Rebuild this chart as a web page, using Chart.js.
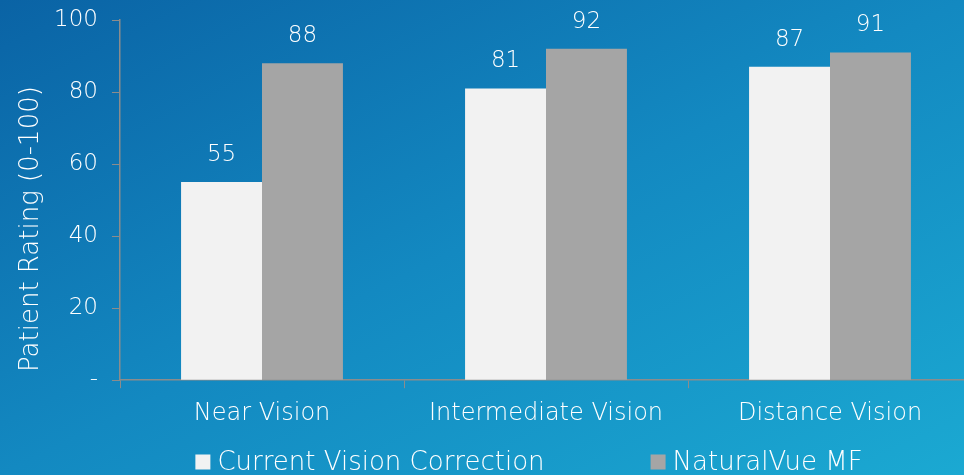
<!DOCTYPE html>
<html>
<head>
<meta charset="utf-8">
<script src="https://cdn.jsdelivr.net/npm/chart.js@4.4.1/dist/chart.umd.min.js"></script>
<style>
html,body{margin:0;padding:0;width:964px;height:475px;overflow:hidden;}
body{background:linear-gradient(to bottom right,#0a63a5 0%,#1389c1 50%,#1ba9d2 100%);}
#wrap{position:absolute;left:0;top:0;width:980px;height:475px;}
</style>
</head>
<body>
<div id="wrap"><canvas id="c" width="980" height="475"></canvas></div>
<script>
const categories=["Near Vision","Intermediate Vision","Distance Vision"];
const seriesNames=["Current Vision Correction","NaturalVue MF"];
const currentValues=[55,81,87];
const naturalVueValues=[88,92,91];
const yTicks=[0,20,40,60,80,100];
const yTitle="Patient Rating (0-100)";
const fontFam="'DejaVu Sans', sans-serif";
const fw=200;

const valueLabels={
  id:"valueLabels",
  afterDatasetsDraw(chart){
    const ctx=chart.ctx;ctx.save();
    ctx.fillStyle="#ffffff";ctx.font=fw+" 23px "+fontFam;ctx.textAlign="center";ctx.textBaseline="middle";
    chart.data.datasets.forEach((ds,i)=>{
      chart.getDatasetMeta(i).data.forEach((bar,j)=>{ctx.fillText(ds.data[j],bar.x,bar.y-27);});
    });
    ctx.restore();
  }
};
const bottomLegend={
  id:"bottomLegend",
  afterDraw(chart){
    const ctx=chart.ctx;ctx.save();
    ctx.font=fw+" 26px "+fontFam;ctx.textBaseline="middle";
    const box=15,gapBox=7,gapItem=106,y=462;
    const widths=chart.data.datasets.map(d=>box+gapBox+ctx.measureText(d.label).width);
    let x=529-(widths.reduce((a,b)=>a+b,0)+gapItem)/2;
    chart.data.datasets.forEach((d,i)=>{
      ctx.fillStyle=d.backgroundColor;ctx.fillRect(x,y-box/2,box,box);
      ctx.fillStyle="#ffffff";ctx.fillText(d.label,x+box+gapBox,y+1);
      x+=widths[i]+gapItem;
    });
    ctx.restore();
  }
};

new Chart(document.getElementById("c"),{
  type:"bar",
  data:{labels:categories,datasets:[
    {label:seriesNames[0],data:currentValues,backgroundColor:"#f2f2f2"},
    {label:seriesNames[1],data:naturalVueValues,backgroundColor:"#a5a5a5"}
  ]},
  options:{
    responsive:false,animation:false,
    datasets:{bar:{categoryPercentage:0.57,barPercentage:1.0}},
    layout:{padding:{top:20,right:8,left:16,bottom:36}},
    plugins:{legend:{display:false},tooltip:{enabled:false}},
    scales:{
      x:{
        grid:{display:true,drawOnChartArea:false,color:"#8c8c8c",tickLength:8},
        border:{color:"#8c8c8c",width:1.5},
        ticks:{color:"#ffffff",font:{family:fontFam,size:24,weight:fw},padding:11}
      },
      y:{
        min:0,max:100,
        afterBuildTicks(s){s.ticks=yTicks.map(v=>({value:v}));},
        afterFit(s){s.width=104;s.paddingTop=0;s.paddingBottom=0;},
        grid:{display:true,drawOnChartArea:false,color:"#8c8c8c",tickLength:8},
        border:{color:"#8c8c8c",width:1.5},
        title:{display:true,text:yTitle+"       ",color:"#ffffff",font:{family:fontFam,size:26,weight:fw},padding:0},
        ticks:{color:"#ffffff",font:{family:fontFam,size:23,weight:fw},padding:14,callback:v=>v===0?"-":v}
      }
    }
  },
  plugins:[valueLabels,bottomLegend]
});
</script>
</body>
</html>
